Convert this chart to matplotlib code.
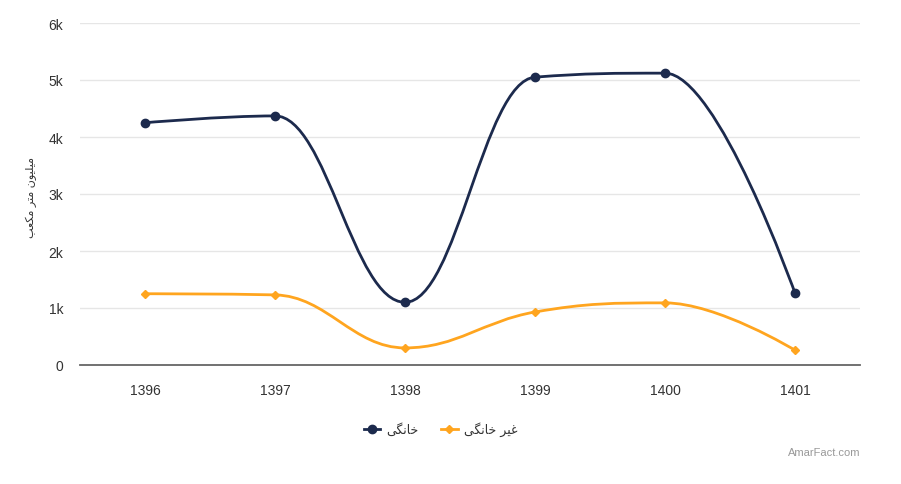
import numpy as np
import matplotlib.pyplot as plt
from matplotlib.path import Path
from matplotlib.patches import PathPatch

# data
years = ['1396', '1397', '1398', '1399', '1400', '1401']
domestic = [4250, 4370, 1100, 5050, 5120, 1260]
non_domestic = [1250, 1230, 300, 930, 1090, 260]

# persian labels (presentation forms, visual order)
label_domestic = '\ufbfd\ufb95\ufee7\ufe8e\ufea7'            # خانگی
label_non_domestic = '\ufbfd\ufb95\ufee7\ufe8e\ufea7 \ufeae\ufbff\ufecf'  # غیر خانگی
ylabel = '\ufe90\ufecc\ufb91\ufee3 \ufeae\ufe98\ufee3 \ufee5\ufeee\ufbff\ufee0\ufbff\ufee3'  # میلیون متر مکعب

navy = '#1c2a4d'
orange = '#ffa51f'


def spline_path(xs, ys, smoothing=1.5):
    # highcharts style spline
    n = len(xs)
    right = [None] * n
    left = [None] * n
    denom = smoothing + 1
    for i in range(1, n - 1):
        px, py = xs[i], ys[i]
        lx, ly = xs[i - 1], ys[i - 1]
        nx, ny = xs[i + 1], ys[i + 1]
        lcx = (smoothing * px + lx) / denom
        lcy = (smoothing * py + ly) / denom
        rcx = (smoothing * px + nx) / denom
        rcy = (smoothing * py + ny) / denom
        corr = (rcy - lcy) * (rcx - px) / (rcx - lcx) + py - rcy
        lcy += corr
        rcy += corr
        if lcy > ly and lcy > py:
            lcy = max(ly, py)
            rcy = 2 * py - lcy
        elif lcy < ly and lcy < py:
            lcy = min(ly, py)
            rcy = 2 * py - lcy
        if rcy > ny and rcy > py:
            rcy = max(ny, py)
            lcy = 2 * py - rcy
        elif rcy < ny and rcy < py:
            rcy = min(ny, py)
            lcy = 2 * py - rcy
        left[i] = (lcx, lcy)
        right[i] = (rcx, rcy)
    verts = [(xs[0], ys[0])]
    codes = [Path.MOVETO]
    for i in range(1, n):
        c1 = right[i - 1] if right[i - 1] else (xs[i - 1], ys[i - 1])
        c2 = left[i] if left[i] else (xs[i], ys[i])
        verts += [c1, c2, (xs[i], ys[i])]
        codes += [Path.CURVE4] * 3
    return Path(verts, codes)


plt.rcParams['font.family'] = ['Liberation Sans', 'DejaVu Sans']

fig = plt.figure(figsize=(9.01, 4.85), dpi=100)
ax = fig.add_axes([80 / 901, 119 / 485, 780 / 901, 342 / 485])

x = np.arange(len(years))
for vals, col, mk, ms in [(domestic, navy, 'o', 6), (non_domestic, orange, 'D', 4.5)]:
    ax.add_patch(PathPatch(spline_path(list(x), vals), fill=False, edgecolor=col, lw=2, zorder=3))
    ax.plot(x, vals, ls='none', marker=mk, ms=ms, color=col, zorder=4)

ax.set_xlim(-0.5, len(years) - 0.5)
ax.set_ylim(0, 6000)
ax.set_xticks(x)
ax.set_xticklabels(years)
ax.set_yticks(np.arange(0, 6001, 1000))
ax.set_yticklabels(['0'] + ['%dk' % k for k in range(1, 7)])
ax.tick_params(length=0, labelsize=10, colors='#333333')
ax.tick_params(axis='x', pad=13)
ax.tick_params(axis='y', pad=12)
ax.grid(axis='y', color='#e6e6e6', lw=1)
ax.set_axisbelow(True)
for s in ['top', 'right', 'left']:
    ax.spines[s].set_visible(False)
ax.spines['bottom'].set_color('#666666')
ax.spines['bottom'].set_linewidth(1.3)
ax.spines['bottom'].set_zorder(5)

fig.text(31 / 901, 1 - 197 / 485, ylabel, rotation=90, ha='center', va='center', fontsize=8,
         color='#333333', family='DejaVu Sans')

# legend
ly = 1 - 430 / 485
fig.add_artist(plt.Line2D([364 / 901, 380 / 901], [ly, ly], color=navy, lw=2, transform=fig.transFigure))
fig.add_artist(plt.Line2D([372 / 901], [ly], color=navy, marker='o', ms=6, ls='none', transform=fig.transFigure))
fig.text(386 / 901, ly, label_domestic, ha='left', va='center', fontsize=9, color='#333333', family='DejaVu Sans')
fig.add_artist(plt.Line2D([441 / 901, 458 / 901], [ly, ly], color=orange, lw=2, transform=fig.transFigure))
fig.add_artist(plt.Line2D([449 / 901], [ly], color=orange, marker='D', ms=4.5, ls='none', transform=fig.transFigure))
fig.text(464 / 901, ly, label_non_domestic, ha='left', va='center', fontsize=9, color='#333333', family='DejaVu Sans')

fig.text(860 / 901, 1 - 453 / 485, 'AmarFact.com', ha='right', va='center', fontsize=8, color='#999999')

fig.savefig('out.png', dpi=100)
